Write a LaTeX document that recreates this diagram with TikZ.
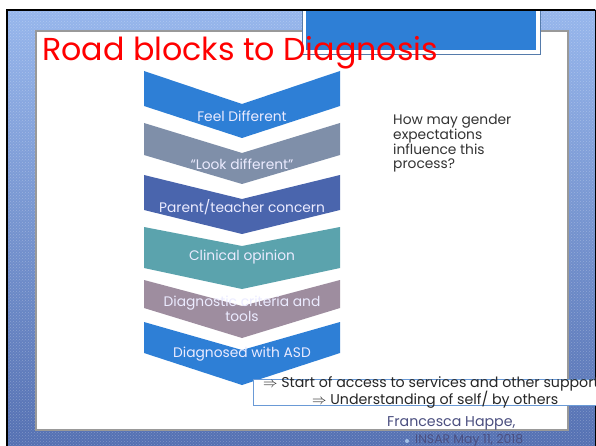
\documentclass[tikz,border=0pt]{standalone}
\usepackage{fontspec}
\setmainfont{Poppins}
\usetikzlibrary{positioning,patterns}
\definecolor{framelight}{RGB}{150,182,236}
\definecolor{framedark}{RGB}{84,112,178}
\definecolor{chevblue}{HTML}{2E7FD6}
\definecolor{chevgray}{HTML}{7F8FA9}
\definecolor{chevnavy}{HTML}{4A65AD}
\definecolor{chevteal}{HTML}{5BA3AD}
\definecolor{chevmauve}{HTML}{9E8D9F}
\definecolor{boxline}{HTML}{6A9AD6}
\definecolor{authorcol}{HTML}{4B4F80}

\begin{document}
\begin{tikzpicture}[x=1pt,y=-1pt,
  chevtext/.style={text=white!92!blue, font=\fontsize{13.8}{15}\selectfont, align=center, inner sep=0pt},
  bodytext/.style={text=black!80, font=\fontsize{13.8}{13.6}\selectfont, align=left, inner sep=0pt},
  boxtext/.style={text=black!85, font=\fontsize{14.2}{15}\selectfont, inner sep=0pt}]
	\useasboundingbox (0,0) rectangle (596,446);
	% frame and panel
	\shade[top color=framelight, bottom color=framedark] (7,10) rectangle (596,446);
	\fill[pattern=crosshatch dots, pattern color=white, opacity=0.25] (7,10) rectangle (596,446);
	\draw[black!40, line width=1.2pt, fill=white] (36,31) rectangle (568,430);
	\draw[boxline!80!black, fill=white] (302,10) rectangle (540,54);
	\fill[chevblue] (306,10) rectangle (536,50);
	\draw[line width=2pt] (595,10) -- (7,10) -- (7,446);
	\draw[line width=1pt] (595,10) -- (595,446);
	
	\node[anchor=base west, inner sep=0pt, text=red, font=\fontsize{31.7}{33}\selectfont] (title) at (42,61) {Road blocks to Diagnosis};
	
	% chevrons: top, notch, bottom, tip
	\foreach \name/\top/\notch/\bot/\tip/\col in {c1/71/104/106/138/chevblue, c2/123/153/155/184/chevgray, c3/175/199/210/234/chevnavy, c4/227/246/268/289/chevteal, c5/280/306/308/338/chevmauve, c6/322/350/353/385/chevblue}
		\fill[\col] (144,\top) -- (242,\notch) -- (340,\top) -- (340,\bot) -- (242,\tip) -- (144,\bot) -- cycle;
	
	\node[chevtext] (feel)     at (242,116) {Feel Different};
	\node[chevtext] (look)     at (242,164) {“Look different”};
	\node[chevtext] (concern)  at (242,207) {Parent/teacher concern};
	\node[chevtext] (clinical) at (242,257) {Clinical opinion};
	\node[chevtext] (criteria) at (242,309) {Diagnostic criteria and\\tools};
	\node[chevtext] (asd)      at (242,354) {Diagnosed with ASD};
	
	\node[bodytext, anchor=north west] (question) at (393,114) {How may gender\\expectations\\influence this\\process?};
	
	% outcome box
	\draw[boxline, line width=1pt, fill=white] (253,379) rectangle (597,405);
	\node[boxtext, anchor=west] (access) at (263,384) {$\Rightarrow$ Start of access to services and other support};
	\node[boxtext, anchor=west] (understand) at (312,400) {$\Rightarrow$ Understanding of self/ by others};
	
	\node[boxtext, text=authorcol, anchor=west] (author) at (387,423) {Francesca Happe,};
	\fill[boxline!60] (407,441) circle (2pt);
	\node[text=authorcol, font=\fontsize{12.4}{13}\selectfont, inner sep=0pt, anchor=west] (venue) at (415,441) {INSAR May 11, 2018};
\end{tikzpicture}
\end{document}
